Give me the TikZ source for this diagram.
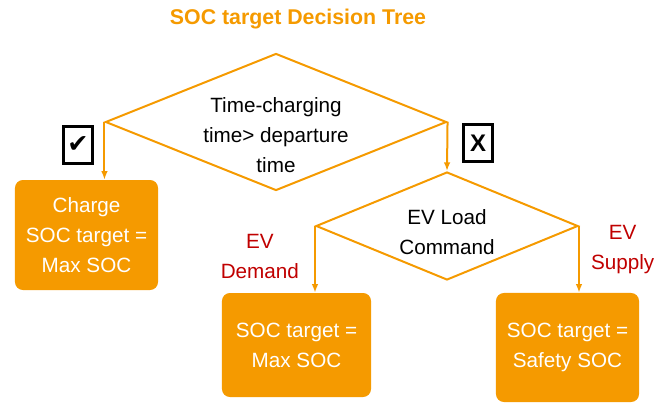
\documentclass[tikz,border=0pt]{standalone}
\usepackage{fontspec}
\setmainfont{Liberation Sans}
\newfontfamily\glyphfont{DejaVu Sans}
\usepackage{tikz}
\usetikzlibrary{shapes.geometric, arrows.meta, positioning}
\definecolor{socorange}{RGB}{245,154,0}
\definecolor{socred}{RGB}{192,0,0}

\begin{document}
\begin{tikzpicture}[x=0.75pt, y=-0.75pt,
    every node/.style={font=\fontsize{15.5}{22.5}\selectfont},
    decision/.style={diamond, draw=socorange, line width=1.5pt, inner sep=0pt},
    result/.style={rectangle, rounded corners=6pt, fill=socorange, text=white, align=center, inner sep=0pt},
    choice/.style={text=socred, align=center},
    tick/.style={draw, line width=2.3pt, minimum width=22pt, minimum height=28pt, inner sep=0pt},
    every edge/.style={draw=socorange, line width=1.5pt, -{Latex[length=6.5pt,width=5pt]}}]
    \useasboundingbox (0,0) rectangle (668,403);

    \node[text=socorange, font=\bfseries\fontsize{16}{16}\selectfont] (title) at (298,19) {SOC target Decision Tree};

    \node[decision, minimum width=255.8pt, minimum height=102.8pt] (q1) at (276,122) {};
    \node[align=center] (q1txt) at (276,135) {Time-charging\\time> departure\\time};
    \node[decision, minimum width=196.5pt, minimum height=81pt] (q2) at (447,226) {};
    \node[align=center] (q2txt) at (447,232) {EV Load\\Command};

    \node[result, minimum width=107.3pt, minimum height=82.5pt] (charge) at (86.5,235) {Charge\\SOC target =\\Max SOC};
    \node[result, minimum width=111.8pt, minimum height=78pt] (soc1) at (296.5,345) {SOC target =\\Max SOC};
    \node[result, minimum width=107.3pt, minimum height=81.8pt] (soc2) at (567.5,347.5) {SOC target =\\Safety SOC};

    \node[tick, font=\glyphfont\bfseries\fontsize{19}{19}\selectfont] (yes) at (78,145) {✔};
    \node[tick, font=\bfseries\fontsize{18}{18}\selectfont] (no) at (478,143) {X};

    \path
        (q1.west) edge (q1.west |- charge.north)
        (q1.east) edge (q2.north)
        (q2.west) edge node[choice, left=8pt, pos=0.45] {EV\\Demand} (q2.west |- soc1.north)
        (q2.east) edge node[choice, right=5pt, pos=0.35] {EV\\Supply} (q2.east |- soc2.north);
\end{tikzpicture}
\end{document}
